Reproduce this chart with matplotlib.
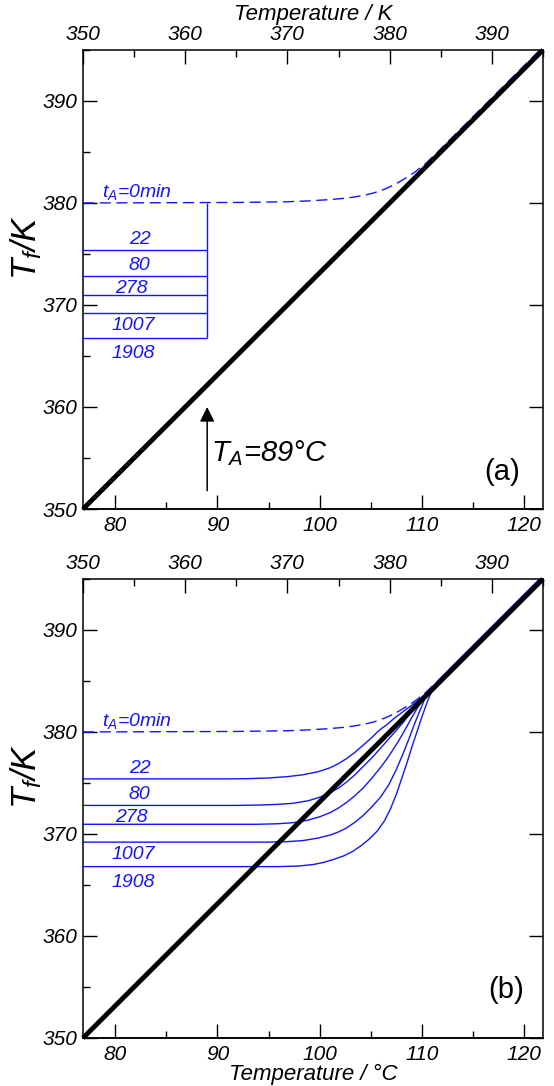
import matplotlib

matplotlib.use("Agg")
import matplotlib.pyplot as plt
from matplotlib.ticker import MultipleLocator

plt.rcParams["font.family"] = ["Liberation Sans", "DejaVu Sans"]
plt.rcParams["font.style"] = "italic"
plt.rcParams["mathtext.fontset"] = "custom"
plt.rcParams["mathtext.rm"] = "Liberation Sans"
plt.rcParams["mathtext.it"] = "Liberation Sans:italic"

# fictive temperature vs temperature, all in K
DIAG_T = [350, 395]
ANNEAL_LABELS = ["22", "80", "278", "1007", "1908"]
PLATEAU_TF = [375.4, 372.8, 370.95, 369.2, 366.8]
T_ANNEAL_C = 89
START_TF = 380.0

DASHED_T = [350, 365, 370, 372, 374, 375.5, 376.5, 377.5, 378.5, 379.5,
            380.5, 381.5, 382.5, 383.5, 384.5, 385.5, 395]
DASHED_TF = [380.0, 380.05, 380.12, 380.2, 380.32, 380.45, 380.58, 380.75,
             381.0, 381.35, 381.8, 382.4, 383.05, 383.85, 384.8, 385.8, 395.3]

CURVE_22_T = [350, 364, 366, 368, 370, 371.5, 373, 374.2, 375, 375.8, 376.6,
              377.4, 378.2, 378.9, 379.7, 380.4, 381.2, 382, 382.8, 383.6,
              384.5, 385.5, 395]
CURVE_22_TF = [375.4, 375.4, 375.42, 375.48, 375.62, 375.8, 376.1, 376.5,
               376.9, 377.4, 378.0, 378.7, 379.4, 380.1, 380.7, 381.3, 381.9,
               382.5, 383.1, 383.8, 384.7, 385.75, 395.3]
CURVE_80_T = [350, 365, 367, 369, 370.5, 372, 373, 374, 375, 375.8, 376.6,
              377.4, 378.2, 379.1, 379.9, 380.6, 381.3, 382, 382.8, 383.6,
              384.5, 385.5, 395]
CURVE_80_TF = [372.8, 372.8, 372.83, 372.9, 373.0, 373.25, 373.55, 373.95,
               374.5, 375.1, 375.8, 376.6, 377.4, 378.4, 379.3, 380.1, 380.9,
               381.8, 382.8, 383.8, 384.7, 385.75, 395.3]
CURVE_278_T = [350, 367, 369, 370.5, 372, 373.2, 374.2, 375, 375.8, 376.6,
               377.4, 378.2, 379.1, 379.9, 380.8, 381.5, 382.1, 382.8, 383.6,
               384.5, 385.5, 395]
CURVE_278_TF = [370.95, 370.95, 371.0, 371.1, 371.35, 371.7, 372.1, 372.55,
                373.1, 373.75, 374.5, 375.4, 376.5, 377.6, 379.0, 380.2,
                381.3, 382.5, 383.8, 384.7, 385.75, 395.3]
CURVE_1007_T = [350, 368, 370, 371.5, 373, 374.2, 375, 375.8, 376.6, 377.4,
                378.2, 379.1, 379.9, 380.6, 381.2, 381.8, 382.4, 383.0, 383.6,
                384.5, 385.5, 395]
CURVE_1007_TF = [369.2, 369.2, 369.25, 369.35, 369.6, 369.9, 370.2, 370.6,
                 371.15, 371.8, 372.6, 373.6, 374.8, 376.2, 377.6, 379.1,
                 380.7, 382.2, 383.6, 384.7, 385.75, 395.3]
CURVE_1908_T = [350, 369, 371, 372.5, 373.5, 374.5, 375.5, 376.4, 377.2, 378,
                378.8, 379.5, 380.1, 380.7, 381.2, 381.7, 382.2, 382.7, 383.2,
                383.7, 384.2, 385, 386, 395]
CURVE_1908_TF = [366.8, 366.8, 366.85, 367.0, 367.2, 367.5, 367.85, 368.3,
                 368.85, 369.5, 370.3, 371.3, 372.5, 374.0, 375.5, 377.0,
                 378.6, 380.1, 381.6, 383.0, 384.2, 385.2, 386.3, 395.3]

CURVES_T = [CURVE_22_T, CURVE_80_T, CURVE_278_T, CURVE_1007_T, CURVE_1908_T]
CURVES_TF = [CURVE_22_TF, CURVE_80_TF, CURVE_278_TF, CURVE_1007_TF,
             CURVE_1908_TF]

# label placement (data coords, K)
LABEL_X = [355.55, 355.55, 354.75, 354.9, 354.9]
LABEL_Y = [376.0, 373.4, 371.15, 367.5, 364.8]

BLUE = "#1414ff"
K0 = 273.15


def k_to_c(t):
    return t - K0


def c_to_k(t):
    return t + K0


def style_axes(ax, top_label, bottom_label):
    ax.set_xlim(350, 395)
    ax.set_ylim(350, 395)
    for spine in ax.spines.values():
        spine.set_linewidth(1.1)
    ax.xaxis.set_ticks_position("top")
    ax.xaxis.set_label_position("top")
    ax.xaxis.set_minor_locator(MultipleLocator(5))
    ax.yaxis.set_minor_locator(MultipleLocator(5))
    ax.set_xticks([350, 360, 370, 380, 390])
    ax.set_yticks([350, 360, 370, 380, 390])
    ax.tick_params(axis="both", which="both", direction="in", width=1.0,
                   labelsize=15, pad=4)
    ax.tick_params(axis="both", which="major", length=10)
    ax.tick_params(axis="both", which="minor", length=5)
    ax.tick_params(axis="y", right=True)
    if top_label:
        ax.set_xlabel("Temperature / K", fontsize=16, labelpad=4)
    ax.set_ylabel(r"$\mathrm{T}_{f}\mathrm{/K}$", fontsize=25,
                  fontstyle="normal")
    ax.yaxis.set_label_coords(-0.085, 0.57)

    sec = ax.secondary_xaxis("bottom", functions=(k_to_c, c_to_k))
    sec.set_xticks([80, 90, 100, 110, 120])
    sec.xaxis.set_minor_locator(MultipleLocator(5))
    sec.tick_params(axis="x", which="both", direction="in", width=1.0,
                    labelsize=15, pad=5)
    sec.tick_params(axis="x", which="major", length=10)
    sec.tick_params(axis="x", which="minor", length=5)
    sec.spines["bottom"].set_linewidth(1.1)
    if bottom_label:
        sec.set_xlabel("Temperature / °C", fontsize=16, labelpad=0)
    return sec


def draw_labels(ax):
    ax.text(351.9, 380.55, r"$t_A$=0min", color=BLUE, fontsize=14,
            ha="left", va="baseline")
    for x, y, label in zip(LABEL_X, LABEL_Y, ANNEAL_LABELS):
        ax.text(x, y, label, color=BLUE, fontsize=14, ha="center",
                va="baseline")


fig = plt.figure(figsize=(5.54, 10.86), dpi=100)
ax_a = fig.add_axes([0.1498, 0.5313, 0.8303, 0.4227])
ax_b = fig.add_axes([0.1498, 0.0442, 0.8303, 0.4227])

t_anneal_k = c_to_k(T_ANNEAL_C)

# (a) step-like schematic
style_axes(ax_a, True, False)
ax_a.plot(DASHED_T, DASHED_TF, color=BLUE, lw=1.0, ls=(0, (8, 4)), zorder=2)
ax_a.hlines(PLATEAU_TF, 350, t_anneal_k, color=BLUE, lw=1.0, zorder=2)
ax_a.vlines(t_anneal_k, min(PLATEAU_TF), START_TF, color=BLUE, lw=1.0,
            zorder=2)
ax_a.plot(DIAG_T, DIAG_T, color="black", lw=3.5, zorder=3,
          solid_capstyle="butt", clip_on=False)
draw_labels(ax_a)
ax_a.annotate("", xy=(t_anneal_k, 360.0), xytext=(t_anneal_k, 351.8),
              arrowprops=dict(arrowstyle="-|>", color="black", lw=1.1,
                              mutation_scale=22, shrinkA=0, shrinkB=0))
ax_a.text(t_anneal_k + 0.35, 355.5, r"$T_A$=89°C", fontsize=21,
          ha="left", va="center")
ax_a.text(0.912, 0.08, "(a)", transform=ax_a.transAxes, fontsize=21,
          fontstyle="normal", ha="center", va="center")

# (b) annealing curves
style_axes(ax_b, False, True)
ax_b.plot(DASHED_T, DASHED_TF, color=BLUE, lw=1.0, ls=(0, (8, 4)), zorder=2)
for xs, ys in zip(CURVES_T, CURVES_TF):
    ax_b.plot(xs, ys, color=BLUE, lw=1.0, zorder=2)
ax_b.plot(DIAG_T, DIAG_T, color="black", lw=3.5, zorder=3,
          solid_capstyle="butt", clip_on=False)
draw_labels(ax_b)
ax_b.text(0.92, 0.105, "(b)", transform=ax_b.transAxes, fontsize=21,
          fontstyle="normal", ha="center", va="center")

fig.savefig("out.png", dpi=100, facecolor="white")
